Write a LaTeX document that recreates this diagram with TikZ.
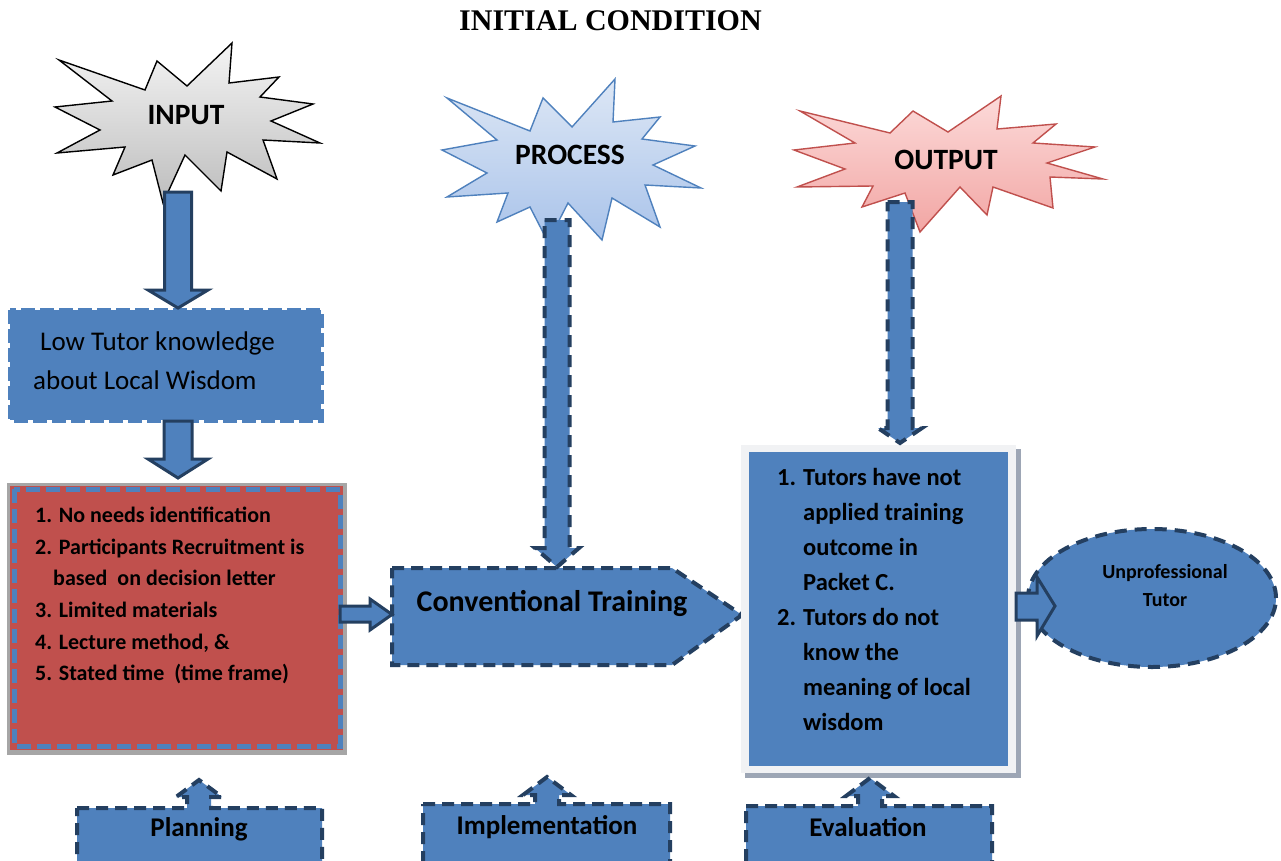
\documentclass[tikz,border=0pt]{standalone}
\usepackage{fontspec}
\setmainfont{Carlito}
\newfontfamily\titlefont{Liberation Serif}
\usetikzlibrary{shapes.geometric}
\definecolor{bfill}{HTML}{4F81BD}
\definecolor{bdark}{HTML}{243F60}
\definecolor{rfill}{HTML}{C0504D}
\definecolor{gframe}{HTML}{A6A6A6}
\definecolor{pline}{HTML}{4F81BD}
\definecolor{oline}{HTML}{C0504D}
\definecolor{itop}{HTML}{F4F4F4}
\definecolor{ibot}{HTML}{BDBDBD}
\definecolor{ptop}{HTML}{DDE7F5}
\definecolor{pbot}{HTML}{A9C3EA}
\definecolor{otop}{HTML}{FCDAD9}
\definecolor{obot}{HTML}{F2A6A4}
\definecolor{shadowc}{HTML}{9DA6B5}
\definecolor{framec}{HTML}{F1F2F4}
\newcommand{\fs}[2]{\fontsize{#1}{#2}\selectfont}
% #1 style, #2 x centre, #3 y top, #4 y head base, #5 y tip, #6 shaft half width, #7 head half width
\newcommand{\blkdown}[7]{\draw[#1] ({#2-#6},#3) -- ({#2+#6},#3) -- ({#2+#6},#4) -- ({#2+#7},#4) -- (#2,#5) -- ({#2-#7},#4) -- ({#2-#6},#4) -- cycle;}
\tikzset{
  solidarrow/.style={draw=bdark, fill=bfill, line width=3pt, line join=miter},
  dasharrow/.style={draw=bdark, fill=bfill, line width=4pt, dash pattern=on 12pt off 8pt},
  inputstar/.style={draw=black, line width=1.4pt, top color=itop, bottom color=ibot},
  processstar/.style={draw=pline, line width=1.4pt, top color=ptop, bottom color=pbot},
  outputstar/.style={draw=oline, line width=1.4pt, top color=otop, bottom color=obot},
  startext/.style={font=\fs{29.5}{34}\bfseries, inner sep=0pt},
  dashbox/.style={draw=bdark, fill=bfill, line width=4pt, dash pattern=on 12pt off 7pt},
  lbl/.style={font=\fs{27}{30}\bfseries, inner sep=0pt},
}
\begin{document}
\begin{tikzpicture}[x=1pt,y=-1pt]
\useasboundingbox (0,0) rectangle (1281,861);
\clip (0,0) rectangle (1281,861);
\fill[white] (0,0) rectangle (1281,861);

% title
\node[font=\titlefont\fs{30}{34}\bfseries, inner sep=0pt] (title) at (610.5,21) {INITIAL CONDITION};

% stars
\draw[inputstar] (59,60) -- (145,90) -- (157,61) -- (187,86) -- (232,43) -- (229,83) -- (279,77) -- (260,97) -- (313,104) -- (271,121) -- (320,143) -- (263,140) -- (277,179) -- (227,152) -- (221,191) -- (185,155) -- (163,203) -- (152,160) -- (113,175) -- (125,147) -- (57,153) -- (100,130) -- (55,107) -- (112,101) -- cycle;
\node[startext] (input) at (186,115) {INPUT};

\draw[processstar] (447,98) -- (530,131) -- (543,98) -- (572,127) -- (615,79) -- (613,122) -- (660,117) -- (642,139) -- (695,146) -- (653,165) -- (701,188) -- (645,185) -- (660,227) -- (612,198) -- (602,240) -- (568,203) -- (548,242) -- (530,207) -- (497,222) -- (508,193) -- (447,197) -- (487,173) -- (442,150) -- (497,140) -- cycle;
\node[startext] (process) at (570,155) {PROCESS};

\draw[outputstar] (800,111) -- (890,133) -- (913,111) -- (948,132) -- (1001,96) -- (997,129) -- (1056,124) -- (1033,143) -- (1095,147) -- (1047,163) -- (1103,179) -- (1050,177) -- (1053,208) -- (993,187) -- (987,215) -- (960,187) -- (920,232) -- (905,193) -- (862,207) -- (873,186) -- (797,187) -- (845,169) -- (794,150) -- (855,143) -- cycle;
\node[startext] (output) at (946,160) {OUTPUT};

% low tutor box
\fill[bfill] (10,310) rectangle (321,420);
\draw[draw=bfill, line width=5pt, dash pattern=on 14pt off 5pt] (10,310) rectangle (321,420);
\node[font=\fs{27}{39}, align=left, anchor=west, inner sep=0pt] (lowtutor) at (33,361)
  {\hspace*{7pt}Low Tutor knowledge\\about Local Wisdom};

% red box
\fill[gframe] (7,483) rectangle (347,755);
\fill[rfill] (10,486) rectangle (343,750);
\draw[draw=bfill, line width=5pt, dash pattern=on 14pt off 6pt] (14,489) rectangle (340,746);
\node[font=\fs{22}{31.6}\bfseries, align=left, anchor=north west, inner sep=0pt] (planlist) at (35,507)
  {1. No needs identification\\
   2. Participants Recruitment is\\
   \hspace*{18pt}based\ \ on decision letter\\
   3. Limited materials\\
   4. Lecture method, \&\\
   5. Stated time\ \ (time frame)};

% conventional training
\draw[dashbox] (392,568) -- (672,568) -- (742,615) -- (672,665) -- (392,665) -- cycle;
\node[font=\fs{30}{34}\bfseries, inner sep=0pt] (conv) at (552,603) {Conventional Training};

% output box
\fill[shadowc] (745,449) rectangle (1021,778);
\fill[framec] (741,445) rectangle (1016,773);
\fill[bfill] (749,452) rectangle (1008,766);
\node[font=\fs{24.5}{35}\bfseries, align=left, anchor=north west, inner sep=0pt] (evallist) at (777,468)
  {\makebox[26pt][l]{1.}Tutors have not\\
   \hspace*{26pt}applied training\\
   \hspace*{26pt}outcome in\\
   \hspace*{26pt}Packet C.\\
   \makebox[26pt][l]{2.}Tutors do not\\
   \hspace*{26pt}know the\\
   \hspace*{26pt}meaning of local\\
   \hspace*{26pt}wisdom};

% unprofessional tutor
\node[ellipse, draw=bdark, fill=bfill, line width=4pt, dash pattern=on 12pt off 8pt, minimum width=248pt, minimum height=138pt, inner sep=0pt] (unprof) at (1152,598) {};
\node[font=\fs{20}{28}\bfseries, align=center, inner sep=0pt] (unproftext) at (1165,586) {Unprofessional\\Tutor};

% vertical arrows
\blkdown{solidarrow}{178}{192}{290}{308}{13.5}{30}
\blkdown{solidarrow}{178}{421}{459}{478}{14}{30}
\blkdown{dasharrow}{557}{220}{548}{567}{12.5}{22}
\blkdown{dasharrow}{900}{202}{428}{443}{12.5}{22}

% horizontal arrows
\draw[solidarrow] (340,606) -- (370,606) -- (370,599) -- (392,614.5) -- (370,630) -- (370,622) -- (340,622) -- cycle;
\draw[solidarrow] (1016,593) -- (1037,593) -- (1037,577) -- (1055,606) -- (1037,636) -- (1037,620) -- (1016,620) -- cycle;

% bottom callouts
\draw[dashbox] (77,808) -- (187,808) -- (187,797) -- (176,797) -- (199,780) -- (222,797) -- (211,797) -- (211,808) -- (322,808) -- (322,880) -- (77,880) -- cycle;
\node[lbl] (planning) at (199,829) {Planning};
\draw[dashbox] (423,804) -- (535,804) -- (535,795) -- (523,795) -- (547,777) -- (571,795) -- (559,795) -- (559,804) -- (670,804) -- (670,880) -- (423,880) -- cycle;
\node[lbl] (implementation) at (547,827) {Implementation};
\draw[dashbox] (746,806) -- (858,806) -- (858,796) -- (846,796) -- (870,778) -- (894,796) -- (882,796) -- (882,806) -- (992,806) -- (992,880) -- (746,880) -- cycle;
\node[lbl] (evaluation) at (868,827) {Evaluation};
\end{tikzpicture}
\end{document}
